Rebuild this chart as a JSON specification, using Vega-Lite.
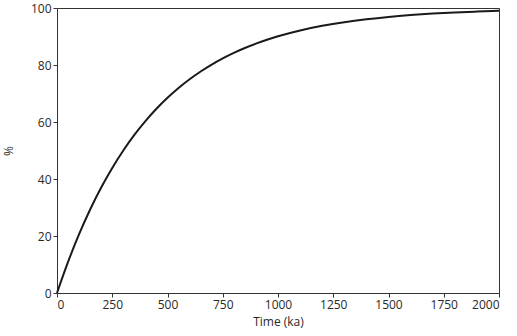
{
  "$schema": "https://vega.github.io/schema/vega-lite/v6.json",
  "autosize": {"type": "none"},
  "width": 442,
  "height": 285,
  "padding": {"left": 57, "top": 8, "right": 18, "bottom": 43},
  "config": {
    "view": {"stroke": "#333", "strokeWidth": 1},
    "axis": {
      "labelFont": "Open Sans",
      "titleFont": "Open Sans",
      "labelFontSize": 12,
      "titleFontSize": 12,
      "labelColor": "#2a2a2a",
      "titleColor": "#2a2a2a",
      "titleFontWeight": "normal",
      "domain": false,
      "grid": false,
      "tickColor": "#333",
      "tickSize": 4,
      "labelPadding": 2
    }
  },
  "data": {
    "values": [
      {"t": 0, "p": 0},
      {"t": 50, "p": 10.91},
      {"t": 100, "p": 20.63},
      {"t": 150, "p": 29.29},
      {"t": 200, "p": 37.0},
      {"t": 250, "p": 43.88},
      {"t": 300, "p": 50.0},
      {"t": 350, "p": 55.46},
      {"t": 400, "p": 60.31},
      {"t": 450, "p": 64.64},
      {"t": 500, "p": 68.5},
      {"t": 550, "p": 71.94},
      {"t": 600, "p": 75.0},
      {"t": 650, "p": 77.73},
      {"t": 700, "p": 80.16},
      {"t": 750, "p": 82.32},
      {"t": 800, "p": 84.25},
      {"t": 850, "p": 85.97},
      {"t": 900, "p": 87.5},
      {"t": 950, "p": 88.86},
      {"t": 1000, "p": 90.08},
      {"t": 1100, "p": 92.13},
      {"t": 1200, "p": 93.75},
      {"t": 1300, "p": 95.04},
      {"t": 1400, "p": 96.06},
      {"t": 1500, "p": 96.88},
      {"t": 1600, "p": 97.52},
      {"t": 1700, "p": 98.03},
      {"t": 1800, "p": 98.44},
      {"t": 1900, "p": 98.76},
      {"t": 2000, "p": 99.02}
    ]
  },
  "mark": {"type": "line", "color": "#1a1a1a", "strokeWidth": 2, "interpolate": "monotone"},
  "encoding": {
    "x": {
      "field": "t", "type": "quantitative", "title": "Time (ka)",
      "scale": {"domain": [0, 2000], "nice": false},
      "axis": {"values": [0, 250, 500, 750, 1000, 1250, 1500, 1750, 2000], "format": "d", "titlePadding": 6}
    },
    "y": {
      "field": "p", "type": "quantitative", "title": "%",
      "scale": {"domain": [0, 100], "nice": false},
      "axis": {"values": [0, 20, 40, 60, 80, 100], "format": "d", "titlePadding": 15}
    }
  }
}
